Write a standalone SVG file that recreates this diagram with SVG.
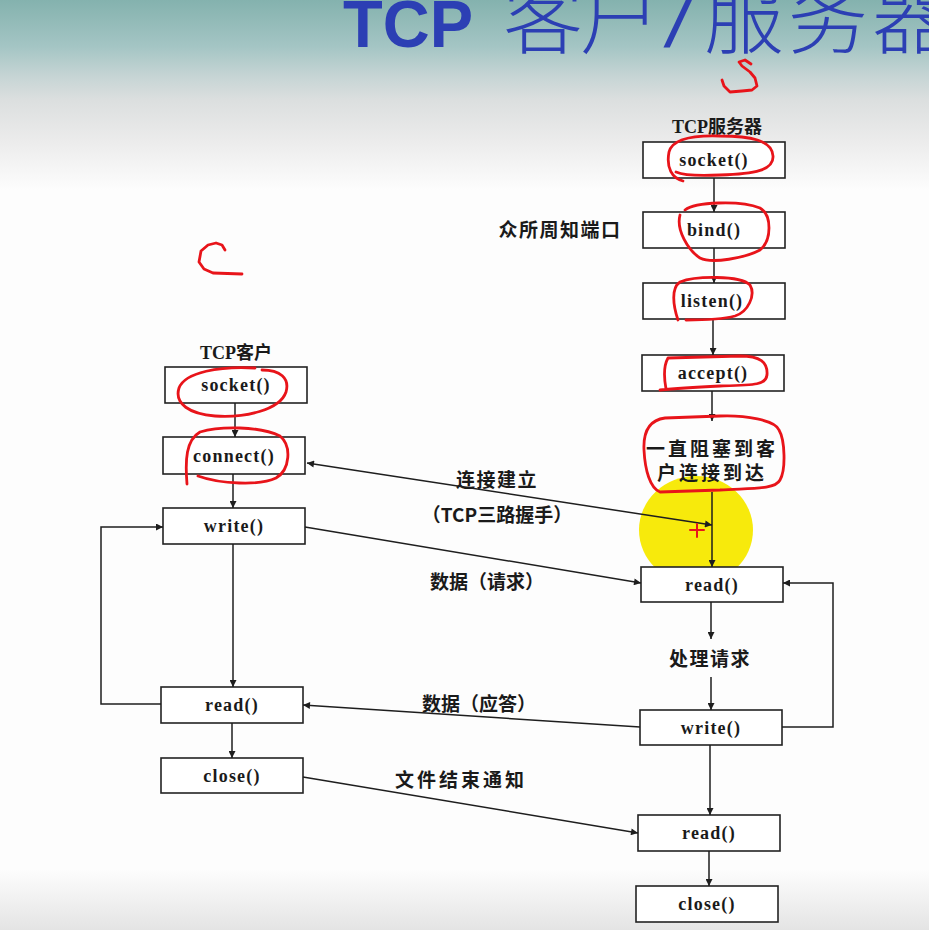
<svg xmlns="http://www.w3.org/2000/svg" width="929" height="930" viewBox="0 0 929 930">
  <defs>
    <linearGradient id="bg" x1="0" y1="0" x2="0" y2="1">
      <stop offset="0" stop-color="#84b2ae"/>
      <stop offset="0.05" stop-color="#a4c5c4"/>
      <stop offset="0.081" stop-color="#c5d4d4"/>
      <stop offset="0.108" stop-color="#dcdfdf"/>
      <stop offset="0.15" stop-color="#ebebeb"/>
      <stop offset="0.205" stop-color="#fdfdfd"/>
      <stop offset="0.935" stop-color="#fdfdfd"/>
      <stop offset="1" stop-color="#e4e4e4"/>
    </linearGradient>
    <marker id="arrow" viewBox="0 0 10 10" refX="10" refY="5" markerWidth="10" markerHeight="7" markerUnits="userSpaceOnUse" orient="auto-start-reverse">
      <path d="M0,0 L10,5 L0,10 z" fill="#1e1e1e"/>
    </marker>
    <style>
      .box { fill: #ffffff; stroke: #222; stroke-width: 1.6; }
      .fn { font-family: "Liberation Serif", serif; font-weight: 700; font-size: 18px; fill: #1a1a1a; text-anchor: middle; letter-spacing: 1.2px; }
      .cn { font-family: "Noto Sans CJK SC", sans-serif; font-weight: 700; font-size: 19px; fill: #1a1a1a; text-anchor: middle; }
      .hd { font-family: "Liberation Serif", "Noto Sans CJK SC", serif; font-weight: 700; font-size: 18px; fill: #1a1a1a; text-anchor: middle; }
      .ln { fill: none; stroke: #1e1e1e; stroke-width: 1.5; }
      .ar { marker-end: url(#arrow); }
      .red { fill: none; stroke: #e8141a; stroke-width: 2.8; stroke-linejoin: round; stroke-linecap: round; }
      .title { fill: #2c3fb4; }
    </style>
  </defs>

  <!-- slide background -->
  <rect x="0" y="0" width="929" height="930" fill="url(#bg)"/>

  <!-- slide title, clipped by the top edge -->
  <g id="title" class="title">
    <text x="343" y="47" font-family="Liberation Sans, sans-serif" font-weight="700" font-size="66" textLength="130" lengthAdjust="spacingAndGlyphs">TCP</text>
    <text y="47" font-family="Noto Sans CJK SC, sans-serif" font-weight="300" font-size="80"><tspan x="503">客</tspan><tspan x="580">户</tspan><tspan x="668" font-family="Liberation Sans, sans-serif" font-style="italic" font-weight="400">/</tspan><tspan x="704">服</tspan><tspan x="788">务</tspan><tspan x="872">器</tspan></text>
  </g>

  <!-- highlighter spot -->
  <ellipse id="spot" cx="696" cy="530" rx="57" ry="54" fill="#f7ea0c"/>

  <!-- server column -->
  <text class="hd" x="717" y="133">TCP服务器</text>
  <g id="srv-socket"><rect class="box" x="643" y="142" width="142" height="36"/><text class="fn" x="714" y="166">socket()</text></g>
  <text class="cn" x="560" y="237" letter-spacing="1.5">众所周知端口</text>
  <g id="srv-bind"><rect class="box" x="643" y="212" width="142" height="36"/><text class="fn" x="714" y="236">bind()</text></g>
  <g id="srv-listen"><rect class="box" x="643" y="283" width="142" height="36"/><text class="fn" x="712" y="307">listen()</text></g>
  <g id="srv-accept"><rect class="box" x="642" y="355" width="142" height="36"/><text class="fn" x="713" y="379">accept()</text></g>
  <g id="srv-block">
    <text class="cn" font-size="18" letter-spacing="3"><tspan x="712" y="456">一直阻塞到客</tspan><tspan x="712" y="480">户连接到达</tspan></text>
  </g>
  <g id="srv-read1"><rect class="box" x="641" y="567" width="142" height="35"/><text class="fn" x="712" y="591">read()</text></g>
  <text class="cn" x="710" y="666" letter-spacing="1.5">处理请求</text>
  <g id="srv-write"><rect class="box" x="640" y="710" width="142" height="35"/><text class="fn" x="711" y="734">write()</text></g>
  <g id="srv-read2"><rect class="box" x="638" y="815" width="142" height="36"/><text class="fn" x="709" y="839">read()</text></g>
  <g id="srv-close"><rect class="box" x="636" y="886" width="142" height="36"/><text class="fn" x="707" y="910">close()</text></g>

  <!-- client column -->
  <text class="hd" x="236" y="359">TCP客户</text>
  <g id="cli-socket"><rect class="box" x="165" y="367" width="142" height="36"/><text class="fn" x="236" y="391">socket()</text></g>
  <g id="cli-connect"><rect class="box" x="163" y="437" width="142" height="37"/><text class="fn" x="234" y="462">connect()</text></g>
  <g id="cli-write"><rect class="box" x="163" y="508" width="142" height="36"/><text class="fn" x="234" y="532">write()</text></g>
  <g id="cli-read"><rect class="box" x="161" y="687" width="142" height="36"/><text class="fn" x="232" y="711">read()</text></g>
  <g id="cli-close"><rect class="box" x="161" y="758" width="142" height="35"/><text class="fn" x="232" y="782">close()</text></g>

  <!-- message labels -->
  <text class="cn" x="497" y="487" letter-spacing="1.5">连接建立</text>
  <text class="cn" x="497" y="522" font-size="18">（TCP三路握手）</text>
  <text class="cn" x="487" y="589" font-size="18">数据（请求）</text>
  <text class="cn" x="479" y="711" font-size="18">数据（应答）</text>
  <text class="cn" x="461" y="787" letter-spacing="3">文件结束通知</text>

  <g id="connectors">
    <!-- server flow -->
    <line class="ln ar" x1="714" y1="178" x2="714" y2="212"/>
    <line class="ln ar" x1="714" y1="248" x2="714" y2="283"/>
    <line class="ln ar" x1="713" y1="319" x2="713" y2="355"/>
    <line class="ln ar" x1="712" y1="391" x2="712" y2="421"/>
    <line class="ln ar" x1="712" y1="492" x2="712" y2="567"/>
    <line class="ln ar" x1="711" y1="602" x2="711" y2="639"/>
    <line class="ln ar" x1="711" y1="677" x2="711" y2="710"/>
    <line class="ln ar" x1="710" y1="745" x2="710" y2="815"/>
    <line class="ln ar" x1="709" y1="851" x2="709" y2="886"/>
    <polyline class="ln ar" points="782,727 833,727 833,583 783,583"/>
    <!-- client flow -->
    <line class="ln ar" x1="235" y1="403" x2="235" y2="437"/>
    <line class="ln ar" x1="233" y1="474" x2="233" y2="508"/>
    <line class="ln ar" x1="233" y1="544" x2="233" y2="687"/>
    <line class="ln ar" x1="232" y1="723" x2="232" y2="758"/>
    <polyline class="ln ar" points="161,704 101,704 101,527 163,527"/>
    <!-- between client and server -->
    <line class="ln ar" x1="307" y1="463" x2="712" y2="525" marker-start="url(#arrow)"/>
    <line class="ln ar" x1="305" y1="527" x2="641" y2="583"/>
    <line class="ln ar" x1="640" y1="727" x2="303" y2="705"/>
    <line class="ln ar" x1="303" y1="777" x2="638" y2="833"/>
  </g>

  <!-- hand-drawn red pen marks -->
  <g id="pen-marks" class="red">
    <path d="M751,64 L745,60 L739,62 L742,66 L750,72 L755,78 L757,86 L752,90 L742,91 L730,92 L724,86 L722,80"/>
    <path d="M225,250 L222,245 L216,243 L208,245 L201,251 L199,262 L204,269 L213,273 L242,274"/>
    <path d="M683,181 C672,178 666,168 669,152 C672,140 690,135 720,136 C750,136 772,140 773,156 C774,170 755,174 720,175 C700,176 685,176 676,172"/>
    <path d="M685,210 C695,202 740,200 760,208 C772,215 772,240 760,250 C745,258 712,264 700,258 C688,250 676,230 680,215"/>
    <path d="M678,320 C673,305 671,288 680,282 C695,276 740,275 750,285 C756,295 748,312 735,316 C720,320 700,320 686,320"/>
    <path d="M666,389 C664,378 664,365 668,358 L740,356 C760,356 768,362 767,375 C766,385 755,385 720,386 C700,387 680,388 660,390"/>
    <path d="M660,492 C650,488 645,470 644,450 C643,430 650,420 665,418 L720,416 C745,415 775,420 779,430 C785,440 786,470 780,480 C775,490 750,488 720,490 L660,492"/>
    <path d="M255,368 C220,366 185,372 179,388 C174,404 190,414 215,416 C245,418 280,410 286,392 C290,378 280,370 262,370"/>
    <path d="M187,484 C185,460 186,440 200,432 C220,426 260,426 280,436 C292,446 290,470 276,478 C260,486 220,484 198,476"/>
    <path d="M690,530 L704,530 M697,524 L697,537" stroke-width="2"/>
  </g>
</svg>
